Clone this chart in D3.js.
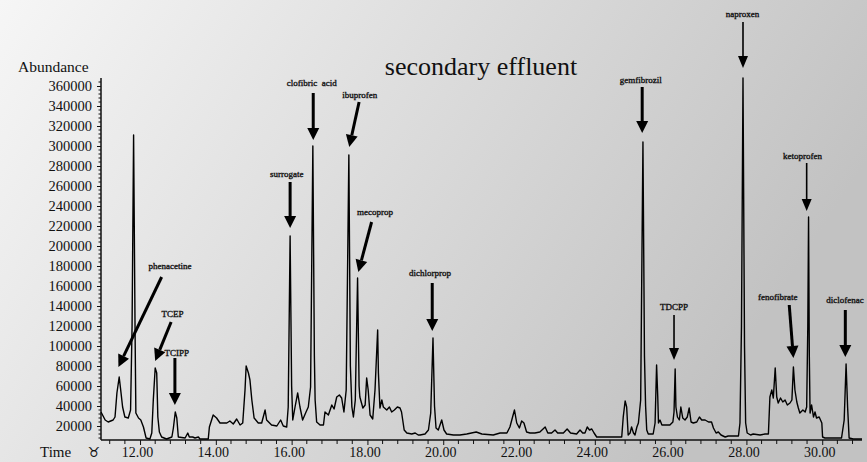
<!DOCTYPE html>
<html><head><meta charset="utf-8">
<script src="https://cdn.jsdelivr.net/npm/d3@7"></script>
<style>html,body{margin:0;padding:0;background:#fff;overflow:hidden}svg{display:block}</style>
</head><body>
<svg id="chart" width="867" height="462"></svg>
<script>
// ---- data ----
const retentionTime = [10.97,11.08,11.16,11.29,11.34,11.39,11.45,11.49,11.54,11.60,11.69,11.75,11.79,11.83,11.87,11.89,11.96,12.02,12.09,12.16,12.26,12.31,12.35,12.40,12.44,12.47,12.51,12.57,12.70,12.84,12.88,12.93,12.97,13.01,13.19,13.26,13.30,13.39,13.45,13.54,13.58,13.80,13.83,13.93,14.02,14.11,14.29,14.37,14.46,14.55,14.64,14.71,14.77,14.80,14.86,14.90,14.95,15.01,15.12,15.21,15.30,15.34,15.47,15.61,15.71,15.78,15.87,15.91,15.96,16.00,16.03,16.09,16.16,16.22,16.29,16.38,16.44,16.50,16.56,16.60,16.62,16.66,16.75,16.84,16.88,16.97,17.06,17.12,17.19,17.26,17.32,17.38,17.44,17.51,17.55,17.59,17.63,17.68,17.74,17.78,17.80,17.88,17.94,17.98,18.02,18.07,18.14,18.20,18.27,18.29,18.33,18.38,18.42,18.51,18.58,18.64,18.71,18.79,18.86,18.90,18.97,19.04,19.17,19.26,19.34,19.39,19.52,19.61,19.67,19.73,19.77,19.81,19.87,19.96,20.02,20.09,20.27,20.44,20.62,20.87,21.02,21.32,21.50,21.68,21.76,21.83,21.88,21.94,22.01,22.07,22.13,22.20,22.29,22.42,22.55,22.69,22.76,22.86,22.95,23.02,23.17,23.27,23.36,23.52,23.61,23.68,23.74,23.80,23.86,23.92,23.98,24.05,24.31,24.71,24.75,24.80,24.84,24.88,24.93,24.97,25.02,25.06,25.11,25.15,25.21,25.27,25.31,25.34,25.37,25.41,25.54,25.59,25.63,25.66,25.68,25.72,25.77,25.98,26.06,26.09,26.12,26.14,26.18,26.23,26.27,26.32,26.38,26.44,26.49,26.54,26.60,26.69,26.76,26.82,26.91,27.00,27.08,27.13,27.20,27.26,27.33,27.44,27.52,27.79,27.83,27.87,27.91,27.95,27.98,28.02,28.11,28.18,28.36,28.49,28.58,28.62,28.67,28.71,28.76,28.80,28.84,28.90,28.96,29.02,29.08,29.15,29.20,29.24,29.28,29.33,29.37,29.41,29.49,29.55,29.59,29.62,29.64,29.66,29.68,29.72,29.77,29.81,29.85,29.92,29.99,30.01,30.07,30.29,30.38,30.51,30.58,30.63,30.67,30.71,30.82,31.05];
const abundance = [34000,26000,24000,26000,29000,53000,69000,56000,39000,29000,28000,36000,120000,311000,110000,33000,28000,26000,19000,8000,7000,13000,46000,78000,73000,29000,14000,9000,7000,9000,18000,34000,28000,9000,8000,13000,9000,9000,8000,9000,7000,7000,19000,31000,28000,23000,23000,25000,22000,27000,21000,23000,56000,80000,73000,66000,46000,28000,23000,23000,36000,26000,21000,20000,26000,20000,19000,39000,210000,60000,26000,39000,53000,39000,26000,34000,39000,59000,300000,90000,46000,24000,21000,21000,34000,31000,41000,37000,49000,51000,48000,34000,56000,291000,80000,39000,29000,46000,168000,60000,49000,38000,41000,68000,56000,31000,27000,56000,116000,73000,38000,46000,39000,36000,39000,34000,36000,39000,38000,34000,16000,13000,12000,13000,11000,11000,12000,16000,33000,108000,40000,18000,16000,26000,16000,12000,11000,11000,12000,14000,12000,11000,13000,13000,19000,29000,36000,23000,18000,25000,23000,14000,13000,13000,14000,19000,13000,13000,16000,13000,13000,17000,13000,12000,16000,13000,13000,19000,16000,17000,13000,9000,9000,9000,29000,45000,39000,11000,13000,19000,13000,11000,19000,23000,46000,304000,90000,40000,16000,12000,12000,23000,81000,50000,23000,26000,21000,21000,24000,34000,77000,39000,29000,26000,39000,28000,26000,29000,38000,24000,23000,24000,29000,26000,26000,24000,24000,18000,13000,14000,11000,9000,10000,10000,23000,120000,368000,100000,23000,13000,11000,12000,11000,12000,12000,49000,56000,48000,78000,49000,43000,48000,44000,46000,41000,43000,46000,79000,56000,44000,38000,33000,36000,34000,39000,120000,229000,90000,33000,41000,29000,34000,28000,29000,23000,9000,8000,8000,8000,8000,26000,82000,39000,8000,7000,7000];

const yTickValues = [20000,40000,60000,80000,100000,120000,140000,160000,180000,200000,220000,240000,260000,280000,300000,320000,340000,360000];
const xTickValues = [12,14,16,18,20,22,24,26,28,30];

// compound annotations: label position and arrow tail/tip in data units
const compounds   = ["phenacetine","TCEP","TCIPP","surrogate","clofibric  acid","ibuprofen","mecoprop","dichlorprop","gemfibrozil","TDCPP","naproxen","fenofibrate","ketoprofen","diclofenac"];
const labelTime   = [12.79,12.86,12.97,15.87,16.53,17.80,18.20,19.65,25.21,26.09,27.90,28.83,29.48,30.60];
const labelAbund  = [180000,132000,93000,272000,363000,351000,234000,173000,366000,139000,432000,149000,290000,146000];
const tailTime    = [12.57,12.82,12.92,15.96,16.57,17.78,18.11,19.71,25.25,26.09,27.91,29.13,29.59,30.61];
const tailAbund   = [169000,124000,88000,264000,353000,344000,224000,163000,359000,131000,424000,141000,283000,136000];
const tipTime     = [11.43,12.40,12.92,15.96,16.57,17.52,17.76,19.71,25.25,26.09,27.91,29.24,29.59,30.61];
const tipAbund    = [79000,85000,41000,218000,306000,299000,174000,115000,313000,86000,378000,88000,235000,89000];

const titleText = "secondary effluent";

// ---- drawing ----
const svg = d3.select("#chart");
const W = 867, H = 462;
const serif = "'Liberation Serif','Times New Roman',serif";

const defs = svg.append("defs");
const grad = defs.append("linearGradient").attr("id","bg").attr("x1","0").attr("y1","0").attr("x2","1").attr("y2","0.35");
grad.append("stop").attr("offset","0").attr("stop-color","#f6f6f6");
grad.append("stop").attr("offset","0.5").attr("stop-color","#dcdcdc");
grad.append("stop").attr("offset","1").attr("stop-color","#c2c2c2");
svg.append("rect").attr("width",W).attr("height",H).attr("fill","url(#bg)");

const x = d3.scaleLinear().domain([10.97, 31.05]).range([101, 862]);
const y = d3.scaleLinear().domain([0, 360000]).range([446, 86]);
const axisY = 440, axisX = 101;

// title
svg.append("text").attr("x",481).attr("y",75).attr("text-anchor","middle")
  .attr("font-family",serif).attr("font-size",26).attr("fill","#111").text(titleText);
svg.append("text").attr("x",18).attr("y",72)
  .attr("font-family",serif).attr("font-size",15.5).attr("fill","#111").text("Abundance");

// y axis
const yAxis = d3.axisLeft(y).tickValues(yTickValues).tickFormat(d3.format("d")).tickSize(4).tickPadding(5);
const gy = svg.append("g").attr("transform",`translate(${axisX},0)`).call(yAxis);
gy.select(".domain").attr("d",`M0,${axisY}V78`).attr("stroke","#111").attr("stroke-width",1.5);
gy.selectAll(".tick line").attr("stroke","#111");
gy.selectAll(".tick text").attr("font-family",serif).attr("font-size",14.5).attr("fill","#111");
const yMinor = d3.range(8000, 364001, 4000).filter(v => v % 20000 !== 0);
gy.selectAll(".minor").data(yMinor).join("line").attr("class","minor")
  .attr("x1",-2.5).attr("x2",0).attr("y1",d=>y(d)).attr("y2",d=>y(d)).attr("stroke","#111");

// x axis
const xAxis = d3.axisBottom(x).tickValues(xTickValues).tickFormat(d3.format(".2f")).tickSize(5).tickPadding(2);
const gx = svg.append("g").attr("transform",`translate(0,${axisY})`).call(xAxis);
gx.select(".domain").attr("d",`M${axisX},0H862`).attr("stroke","#111").attr("stroke-width",1.5);
gx.selectAll(".tick line").attr("stroke","#111");
gx.selectAll(".tick text").attr("font-family",serif).attr("font-size",14).attr("fill","#111").attr("dx",-3);
const xMinor = d3.range(11.2, 31.0, 0.4).filter(t => Math.abs(t/2 - Math.round(t/2)) > 0.01);
gx.selectAll(".minor").data(xMinor).join("line").attr("class","minor")
  .attr("x1",d=>x(d)).attr("x2",d=>x(d)).attr("y1",0).attr("y2",4).attr("stroke","#111");

svg.append("text").attr("x",40).attr("y",457).attr("font-family",serif).attr("font-size",15).attr("fill","#111").text("Time");
svg.append("text").attr("x",94).attr("y",457).attr("text-anchor","middle").attr("font-family","'DejaVu Sans',sans-serif").attr("font-size",14).attr("fill","#111").text("\u2649");

// trace
const pts = retentionTime.map((t,i)=>[t, abundance[i]]);
const line = d3.line().x(d=>x(d[0])).y(d=>y(d[1]));
svg.append("path").datum(pts).attr("d",line).attr("fill","none").attr("stroke","#000")
  .attr("stroke-width",1.4).attr("stroke-linejoin","round");

// annotations
const thin = new Set(["naproxen","ketoprofen","TDCPP"]);
const ann = svg.append("g");
compounds.forEach((name,i)=>{
  ann.append("text").attr("x",x(labelTime[i])).attr("y",y(labelAbund[i])+3)
    .attr("text-anchor","middle").attr("font-family",serif).attr("font-size",9)
    .attr("fill","#111").attr("stroke","#111").attr("stroke-width",0.35)
    .attr("xml:space","preserve").text(name);
  const x1 = x(tailTime[i]), y1 = y(tailAbund[i]), x2 = x(tipTime[i]), y2 = y(tipAbund[i]);
  const ang = Math.atan2(y2-y1, x2-x1);
  const hl = 12, hw = thin.has(name) ? 5 : 6;
  const bx = x2 - hl*Math.cos(ang), by = y2 - hl*Math.sin(ang);
  ann.append("line").attr("x1",x1).attr("y1",y1).attr("x2",bx).attr("y2",by)
    .attr("stroke","#000").attr("stroke-width", thin.has(name) ? 1.6 : 3);
  const px = -Math.sin(ang), py = Math.cos(ang);
  ann.append("polygon").attr("points",
    [[x2,y2],[bx+px*hw,by+py*hw],[bx-px*hw,by-py*hw]].map(p=>p.join(",")).join(" "))
    .attr("fill","#000");
});
</script>
</body></html>
